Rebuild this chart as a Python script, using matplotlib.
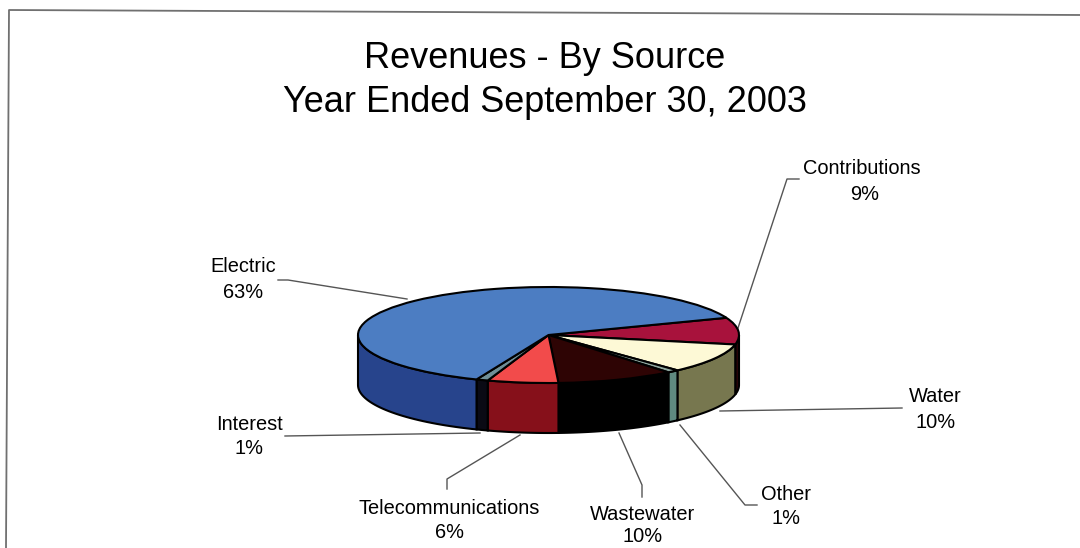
import matplotlib
matplotlib.use('Agg')
import matplotlib.pyplot as plt
import numpy as np

names = ['Contributions', 'Water', 'Other', 'Wastewater', 'Telecommunications', 'Interest', 'Electric']
shares = [9, 10, 1, 10, 6, 1, 63]
top_colors = ['#a8123c', '#fdf9d6', '#8fa8a0', '#2e0404', '#f24b4b', '#6f8f98', '#4c7dc2']
side_colors = ['#2a0508', '#77774f', '#5f8a80', '#000000', '#86101a', '#0a0a14', '#27448c']

# name centre, percent centre, leader path
label_pos = {
    'Contributions': ((862, 169), (865, 194), [(799, 179), (787, 179), (738, 328)]),
    'Water': ((935, 397), (936, 422), [(902, 408), (720, 411)]),
    'Other': ((786, 494), (786, 519), [(757, 505), (745, 505), (680, 425)]),
    'Wastewater': ((643, 515), (643, 537), [(642, 497), (642, 485), (619, 433)]),
    'Telecommunications': ((449, 508), (449, 533), [(447, 489), (447, 479), (520, 435)]),
    'Interest': ((249, 424), (249, 449), [(285, 436), (480, 433)]),
    'Electric': ((243, 267), (243, 293), [(278, 280), (288, 280), (407, 299)]),
}

START_ANGLE = 21
DEPTH = 50 / 48  # wall height in units of the squashed radius

plt.rcParams['font.family'] = ['Liberation Sans', 'DejaVu Sans']

W, H = 1080, 548
fig = plt.figure(figsize=(W / 100, H / 100), dpi=100, facecolor='white')

# ---------- frame, labels and leaders, in pixel coordinates

over = fig.add_axes([0, 0, 1, 1])
over.set_xlim(0, W)
over.set_ylim(H, 0)
over.axis('off')

over.plot([6, 9, 1080], [548, 10, 15], color='#707070', lw=1.3)

over.text(545, 58, 'Revenues - By Source', fontsize=26, ha='center', va='center', color='black')
over.text(545, 103, 'Year Ended September 30, 2003', fontsize=26, ha='center', va='center', color='black')

for name, share in zip(names, shares):
    name_xy, pct_xy, leader = label_pos[name]
    over.text(*name_xy, name, fontsize=14.4, ha='center', va='center', color='black')
    over.text(*pct_xy, f'{share}%', fontsize=14.4, ha='center', va='center', color='black')
    lx, ly = zip(*leader)
    over.plot(lx, ly, color='#555555', lw=1.0)

# ---------- pie, squashed by the axes shape

top_px, bottom_px = 280, 450
ax = fig.add_axes([358 / W, (H - bottom_px) / H, 381 / W, (bottom_px - top_px) / H])
ax.patch.set_alpha(0)

ax.pie(shares, colors=top_colors, startangle=START_ANGLE, counterclock=False,
       wedgeprops={'edgecolor': 'black', 'linewidth': 1.5, 'zorder': 3})
ax.set_aspect('auto')
ax.set_xlim(-1, 1)
ax.set_ylim(-(bottom_px - 335) / 48, (335 - top_px) / 48)
ax.axis('off')

# walls on the front half of the rim
ends = START_ANGLE - np.cumsum(shares) * 3.6
starts = np.concatenate(([START_ANGLE], ends[:-1]))
for a0, a1, col in zip(starts, ends, side_colors):
    hi = min(a0, 0)
    lo = max(a1, -180)
    if hi <= lo:
        continue
    t = np.radians(np.linspace(hi, lo, 40))
    x = np.cos(t)
    y = np.sin(t)
    ax.fill(np.r_[x, x[::-1]], np.r_[y, y[::-1] - DEPTH], facecolor=col,
            edgecolor='black', lw=1.5, zorder=2, clip_on=False)

fig.savefig('out.png', dpi=100)
